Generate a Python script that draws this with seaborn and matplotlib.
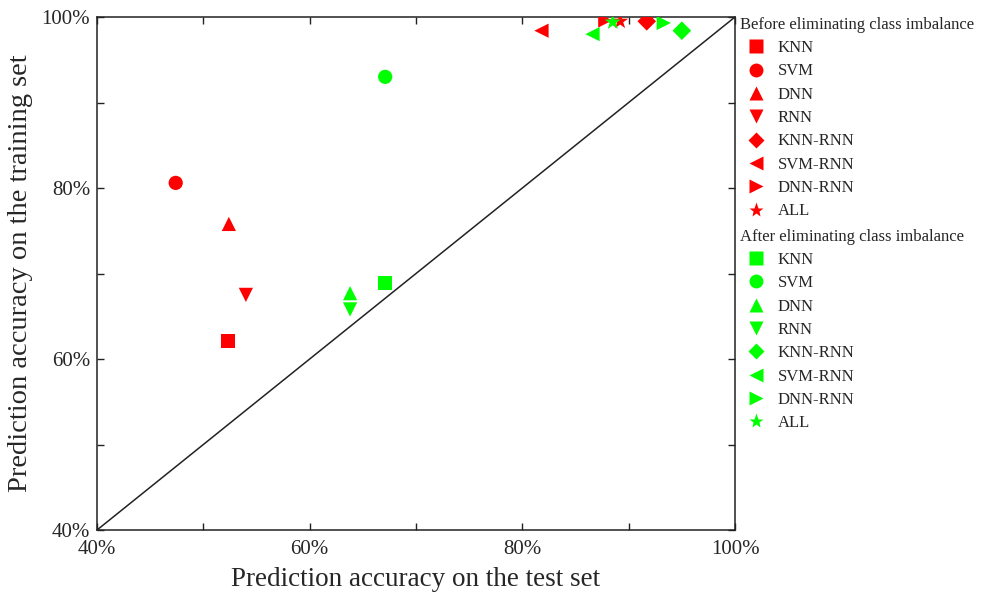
import matplotlib
matplotlib.use("Agg")
import matplotlib.pyplot as plt
from matplotlib.lines import Line2D
from matplotlib.ticker import MultipleLocator
import seaborn as sns
import pandas as pd

# Models compared, with their marker shapes
models = ["KNN", "SVM", "DNN", "RNN", "KNN-RNN", "SVM-RNN", "DNN-RNN", "ALL"]
marker_map = {"KNN": "s", "SVM": "o", "DNN": "^", "RNN": "v",
              "KNN-RNN": "D", "SVM-RNN": "<", "DNN-RNN": ">", "ALL": "*"}
size_map = {"KNN": 100, "SVM": 105, "DNN": 105, "RNN": 105,
            "KNN-RNN": 90, "SVM-RNN": 105, "DNN-RNN": 105, "ALL": 150}

# Accuracy (%) before eliminating class imbalance
before_test = [52.3, 47.4, 52.4, 54.0, 91.7, 81.8, 87.8, 89.2]
before_train = [62.1, 80.6, 75.8, 67.5, 99.5, 98.4, 99.6, 99.5]

# Accuracy (%) after eliminating class imbalance
after_test = [67.1, 67.1, 63.8, 63.8, 95.0, 86.6, 93.3, 88.5]
after_train = [68.9, 93.0, 67.7, 65.8, 98.4, 98.0, 99.3, 99.4]

conditions = ["Before eliminating class imbalance", "After eliminating class imbalance"]
colors = ["#ff0000", "#00ff00"]

tick_values = [40, 60, 80, 100]
tick_labels = ["40%", "60%", "80%", "100%"]

df = pd.concat([
    pd.DataFrame({"model": models, "test": before_test, "train": before_train,
                  "condition": conditions[0]}),
    pd.DataFrame({"model": models, "test": after_test, "train": after_train,
                  "condition": conditions[1]}),
], ignore_index=True)

sns.set_style("ticks")
plt.rcParams["font.family"] = ["Liberation Serif", "DejaVu Serif"]

fig = plt.figure(figsize=(9.95, 5.97), dpi=100)
ax = fig.add_axes([0.0975, 0.1122, 0.6412, 0.8593])

# Reference diagonal: equal accuracy on test and training sets
ax.plot([40, 100], [40, 100], color="#222222", lw=1.1, zorder=1)

for cond, col in zip(conditions, colors):
    sub = df[df["condition"] == cond]
    sns.scatterplot(data=sub, x="test", y="train", style="model",
                    markers=marker_map, style_order=models,
                    size="model", sizes=size_map, size_order=models,
                    color=col, edgecolor="none", linewidth=0, legend=False,
                    ax=ax, zorder=3)

ax.set_xlim(40, 100)
ax.set_ylim(40, 100)
ax.set_xticks(tick_values)
ax.set_xticklabels(tick_labels)
ax.set_yticks(tick_values)
ax.set_yticklabels(tick_labels)
ax.xaxis.set_minor_locator(MultipleLocator(10))
ax.yaxis.set_minor_locator(MultipleLocator(10))
ax.tick_params(which="both", direction="in", top=True, right=True,
               length=5, width=1.0, color="#222222", labelsize=15)
ax.tick_params(axis="x", which="both", pad=7)
ax.tick_params(axis="y", which="both", pad=5)
for sp in ax.spines.values():
    sp.set_linewidth(1.1)
    sp.set_color("#222222")

ax.set_xlabel("Prediction accuracy on the test set", fontsize=19.5, labelpad=6)
ax.set_ylabel("Prediction accuracy on the training set", fontsize=20.5, labelpad=6)

# Two legend blocks, one per condition
legend_ms = {"s": 9.5, "o": 10, "^": 10, "v": 10, "D": 8.5, "<": 10, ">": 10, "*": 11}
tops = [0.972, 0.617]
for cond, col, top in zip(conditions, colors, tops):
    handles = [Line2D([], [], linestyle="none", marker=marker_map[m],
                      markersize=legend_ms[marker_map[m]],
                      markerfacecolor=col, markeredgecolor="none")
               for m in models]
    fig.legend(handles, models, title=cond, loc="upper left",
               bbox_to_anchor=(0.744, top), frameon=False,
               alignment="left", fontsize=12, title_fontsize=12,
               borderpad=0, borderaxespad=0, handlelength=1.9,
               handletextpad=0.35, labelspacing=0.44)

fig.savefig("out.png", dpi=100)
